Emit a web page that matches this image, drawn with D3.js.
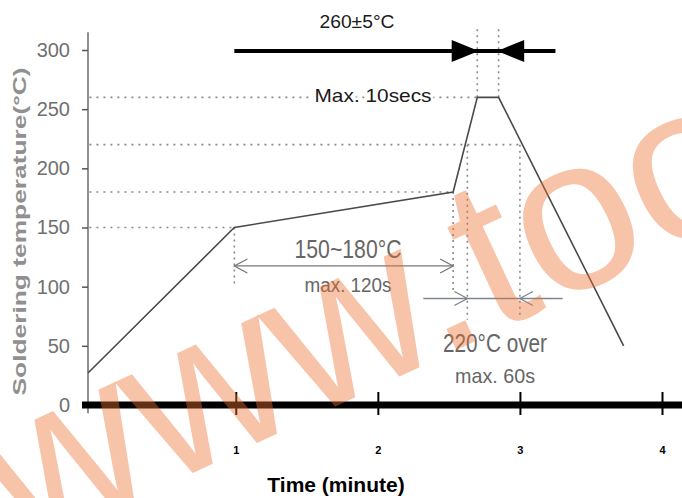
<!DOCTYPE html>
<html>
<head>
<meta charset="utf-8">
<script src="https://cdn.jsdelivr.net/npm/d3@7.9.0/dist/d3.min.js"></script>
<style>
  html, body { margin: 0; padding: 0; background: #fff; }
  svg { display: block; }
  text { font-family: 'Liberation Sans', Arial, sans-serif; }
</style>
</head>
<body>
<svg id="chart" width="682" height="498"></svg>
<script>
// --- DATA ---
const profileTime = [-0.04, 0.99, 2.53, 2.70, 2.85, 3.73];
const profileTemp = [27, 150, 180, 260, 260, 50];

const tempTicks = [0, 50, 100, 150, 200, 250, 300];
const timeTicks = [1, 2, 3, 4];

// dotted horizontal guides: level and time where they meet the curve
const guideTemps = [150, 180, 220, 260];
const guideTimes = [0.99, 2.53, 3.00, 2.70];

// dotted vertical drops: time, from temp, to temp
const dropTimes = [0.99, 2.53, 2.63, 3.00, 2.70, 2.85];
const dropFrom = [150, 180, 220, 220, 260, 260];
const dropTo = [100, 97, 72, 76, 318, 318];

const labels = ['260±5°C', 'Max. 10secs', '150~180°C', 'max. 120s', '220°C over', 'max. 60s'];
const yTitle = 'Soldering temperature(°C)';
const xTitle = 'Time (minute)';
const watermark = 'www.too';

// --- SCALES ---
const svg = d3.select('#chart');
const x = d3.scaleLinear().domain([-0.04, 4]).range([88, 662]);
const y = d3.scaleLinear().domain([0, 300]).range([405, 50]);

// --- DOTTED GUIDES ---
const guides = svg.append('g')
    .attr('stroke', '#8a8a8a')
    .attr('stroke-width', 1.6)
    .attr('fill', 'none');

guides.selectAll('line.h')
    .data(guideTemps)
    .join('line')
    .attr('class', 'h')
    .attr('x1', x(-0.03))
    .attr('x2', (d, i) => x(guideTimes[i]))
    .attr('y1', d => y(d))
    .attr('y2', d => y(d))
    .attr('stroke-dasharray', '2,5');

guides.selectAll('line.v')
    .data(dropTimes)
    .join('line')
    .attr('class', 'v')
    .attr('x1', d => x(d))
    .attr('x2', d => x(d))
    .attr('y1', (d, i) => y(dropFrom[i]))
    .attr('y2', (d, i) => y(dropTo[i]))
    .attr('stroke-dasharray', '2,4');

// --- Y AXIS ---
svg.append('line')
    .attr('x1', x(-0.04)).attr('x2', x(-0.04))
    .attr('y1', y(315)).attr('y2', y(-7))
    .attr('stroke', '#555').attr('stroke-width', 1.3);

const yAxis = svg.append('g')
    .attr('transform', `translate(${x(-0.04)},0)`)
    .call(d3.axisLeft(y).tickValues(tempTicks).tickSize(6).tickPadding(12));
yAxis.select('.domain').remove();
yAxis.selectAll('.tick line').attr('stroke', '#555').attr('stroke-width', 1.5);
yAxis.selectAll('.tick text')
    .attr('fill', '#707070')
    .attr('font-size', 20)
    .attr('font-family', "'Liberation Sans', Arial, sans-serif");

svg.append('text')
    .attr('transform', `translate(26,${(y(300) + y(0)) / 2 + 4}) rotate(-90)`)
    .attr('text-anchor', 'middle')
    .attr('font-size', 18)
    .attr('font-weight', 'bold')
    .attr('fill', '#909090')
    .attr('textLength', 328)
    .attr('lengthAdjust', 'spacingAndGlyphs')
    .text(yTitle);

// --- X AXIS ---
svg.append('line')
    .attr('x1', 82).attr('x2', 682)
    .attr('y1', y(0)).attr('y2', y(0))
    .attr('stroke', '#000').attr('stroke-width', 7);

const xAxis = svg.append('g')
    .attr('transform', `translate(0,${y(0) - 13})`)
    .call(d3.axisBottom(x).tickValues(timeTicks).tickFormat(d3.format('d')).tickSize(23).tickPadding(31));
xAxis.select('.domain').remove();
xAxis.selectAll('.tick line').attr('stroke', '#000').attr('stroke-width', 2);
xAxis.selectAll('.tick text')
    .attr('fill', '#000')
    .attr('font-size', 11)
    .attr('font-weight', 'bold')
    .attr('font-family', "'Liberation Sans', Arial, sans-serif");

svg.append('text')
    .attr('x', 336).attr('y', 492)
    .attr('text-anchor', 'middle')
    .attr('font-size', 21)
    .attr('font-weight', 'bold')
    .attr('fill', '#000')
    .text(xTitle);

// --- PROFILE CURVE ---
const line = d3.line().x(d => x(d[0])).y(d => y(d[1]));
svg.append('path')
    .datum(d3.zip(profileTime, profileTemp))
    .attr('d', line)
    .attr('fill', 'none')
    .attr('stroke', '#4a4a4a')
    .attr('stroke-width', 1.6);

// --- ANNOTATION ARROWS ---
function chevron(tx, ty, dir) {
    return `M${tx - dir * 13},${ty - 7}L${tx},${ty}L${tx - dir * 13},${ty + 7}`;
}

// 150~180 double arrow
svg.append('line')
    .attr('x1', x(0.99)).attr('x2', x(2.53))
    .attr('y1', y(117.5)).attr('y2', y(117.5))
    .attr('stroke', '#777').attr('stroke-width', 1.3);
svg.append('path').attr('d', chevron(x(0.99), y(117.5), -1))
    .attr('fill', 'none').attr('stroke', '#777').attr('stroke-width', 1.3);
svg.append('path').attr('d', chevron(x(2.53), y(117.5), 1))
    .attr('fill', 'none').attr('stroke', '#777').attr('stroke-width', 1.3);

// 220 over arrows
svg.append('line')
    .attr('x1', x(2.32)).attr('x2', x(3.30))
    .attr('y1', y(90)).attr('y2', y(90))
    .attr('stroke', '#7d8590').attr('stroke-width', 1.5);
svg.append('path').attr('d', chevron(x(2.63), y(90), 1))
    .attr('fill', 'none').attr('stroke', '#7d8590').attr('stroke-width', 1.3);
svg.append('path').attr('d', chevron(x(3.00), y(90), -1))
    .attr('fill', 'none').attr('stroke', '#7d8590').attr('stroke-width', 1.3);

// 260±5 thick arrows
svg.append('line')
    .attr('x1', x(0.99)).attr('x2', x(3.25))
    .attr('y1', y(300) + 1).attr('y2', y(300) + 1)
    .attr('stroke', '#000').attr('stroke-width', 4);
const tipY = y(300) + 1;
svg.append('path')
    .attr('d', `M${x(2.71) - 27},${tipY - 11}L${x(2.71)},${tipY}L${x(2.71) - 27},${tipY + 11}Z`)
    .attr('fill', '#000');
svg.append('path')
    .attr('d', `M${x(2.84) + 27},${tipY - 11}L${x(2.84)},${tipY}L${x(2.84) + 27},${tipY + 11}Z`)
    .attr('fill', '#000');

// --- ANNOTATION TEXT ---
const textSpec = [
    { cx: 357, by: 28, size: 18, w: 75, fill: '#1a1a1a' },
    { cx: 373, by: 102, size: 19, w: 117, fill: '#1a1a1a', halo: true },
    { cx: 348, by: 258, size: 25, w: 107, fill: '#666' },
    { cx: 348, by: 292, size: 20, w: 87, fill: '#666' },
    { cx: 495, by: 352, size: 26, w: 104, fill: '#666' },
    { cx: 495, by: 383, size: 21, w: 80, fill: '#666' }
];

svg.append('g')
    .selectAll('text')
    .data(labels)
    .join('text')
    .attr('x', (d, i) => textSpec[i].cx)
    .attr('y', (d, i) => textSpec[i].by)
    .attr('text-anchor', 'middle')
    .attr('font-size', (d, i) => textSpec[i].size)
    .attr('fill', (d, i) => textSpec[i].fill)
    .attr('textLength', (d, i) => textSpec[i].w)
    .attr('lengthAdjust', 'spacingAndGlyphs')
    .attr('stroke', (d, i) => textSpec[i].halo ? '#fff' : 'none')
    .attr('stroke-width', (d, i) => textSpec[i].halo ? 5 : 0)
    .attr('paint-order', 'stroke')
    .text(d => d);

// --- WATERMARK ---
svg.append('text')
    .attr('transform', 'translate(21,553) rotate(-25)')
    .attr('font-size', 218)
    .attr('fill', 'rgb(237,112,50)')
    .attr('fill-opacity', 0.42)
    .text(watermark);
</script>
</body>
</html>
